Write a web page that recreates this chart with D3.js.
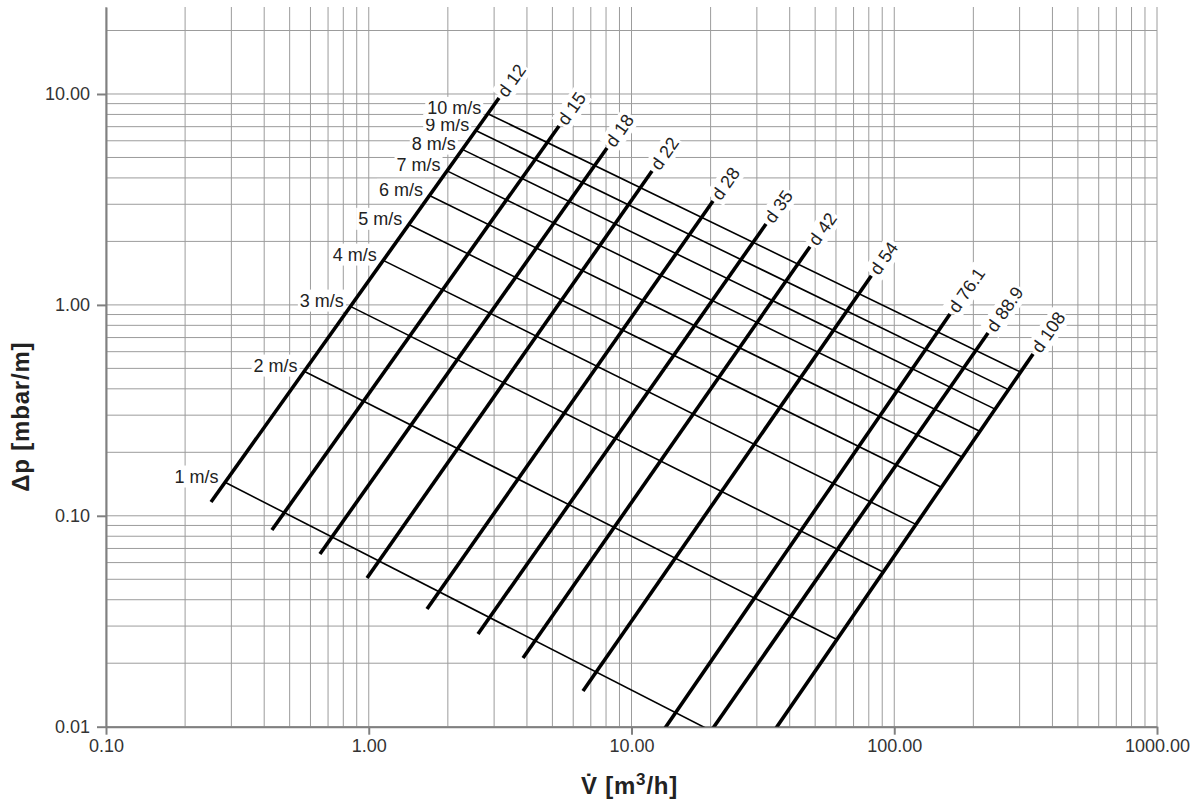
<!DOCTYPE html>
<html><head><meta charset="utf-8">
<script src="https://cdn.jsdelivr.net/npm/d3@7"></script>
<style>
html,body{margin:0;padding:0;background:#fff;}
svg{display:block;}
text{font-family:"Liberation Sans",Arial,Helvetica,sans-serif;}
</style></head><body>
<svg id="chart" width="1197" height="812"></svg>
<script>
// ---- data ----
const xTickValues = [0.1, 1, 10, 100, 1000];
const xTickLabels = ["0.10", "1.00", "10.00", "100.00", "1000.00"];
const yTickValues = [0.01, 0.1, 1, 10];
const yTickLabels = ["0.01", "0.10", "1.00", "10.00"];

// pipe diameter lines (thick): start / end points [m3/h, mbar/m]
const diameterLabels   = ["d 12", "d 15", "d 18", "d 22", "d 28", "d 35", "d 42", "d 54", "d 76.1", "d 88.9", "d 108"];
const diameterStartFlow = [0.251, 0.428, 0.652, 0.985, 1.666, 2.605, 3.865, 6.538, 11.06, 16.82, 29.28];
const diameterStartDp   = [0.1162, 0.0856, 0.0659, 0.0507, 0.03614, 0.02751, 0.02117, 0.01477, 0.00695, 0.00695, 0.00695];
const diameterEndFlow   = [3.131, 5.298, 8.069, 11.97, 20.43, 32.50, 47.78, 81.8, 163.0, 227.4, 337.5];
const diameterEndDp     = [9.574, 7.053, 5.546, 4.314, 3.109, 2.419, 1.888, 1.374, 0.9055, 0.7359, 0.5852];

// flow velocity lines (thin): from d 12 to d 108
const velocityLabels = ["1 m/s", "2 m/s", "3 m/s", "4 m/s", "5 m/s", "6 m/s", "7 m/s", "8 m/s", "9 m/s", "10 m/s"];
const velocityStartFlow = [0.285, 0.57, 0.855, 1.14, 1.425, 1.71, 1.995, 2.28, 2.565, 2.85];
const velocityStartDp   = [0.1438, 0.4828, 0.9815, 1.622, 2.397, 3.290, 4.309, 5.448, 6.690, 8.045];
const velocityEndFlow   = [30.1, 60.2, 90.3, 120.4, 150.5, 180.6, 210.7, 240.8, 270.9, 301];
const velocityEndDp     = [0.00739, 0.02597, 0.05426, 0.09133, 0.1370, 0.1905, 0.2524, 0.3213, 0.3976, 0.4817];

const xTitle = "V\u0307 [m";
const xTitleSup = "3";
const xTitleEnd = "/h]";
const yTitle = "\u0394p [mbar/m]";

// ---- chart ----
const plot = {left: 106, right: 1157, top: 7, bottom: 726.7};
const x = d3.scaleLog().domain([0.1, 1000]).range([plot.left, plot.right]);
const y = d3.scaleLog().domain([0.01, 25.85]).range([plot.bottom, plot.top]);

const svg = d3.select("#chart");
svg.append("defs").append("clipPath").attr("id", "clip")
  .append("rect")
  .attr("x", plot.left).attr("y", plot.top)
  .attr("width", plot.right - plot.left).attr("height", plot.bottom - plot.top);

// grid
const grid = svg.append("g").attr("class", "grid");
grid.selectAll("line.v").data(x.ticks()).join("line").attr("class", "v")
  .attr("x1", d => x(d)).attr("x2", d => x(d))
  .attr("y1", plot.top).attr("y2", plot.bottom)
  .attr("stroke", "#9c9c9c").attr("stroke-width", 1);
grid.selectAll("line.h").data(y.ticks()).join("line").attr("class", "h")
  .attr("x1", plot.left).attr("x2", plot.right)
  .attr("y1", d => y(d)).attr("y2", d => y(d))
  .attr("stroke", "#9c9c9c").attr("stroke-width", 1);

// axes
const xAxis = d3.axisBottom(x).tickValues(xTickValues)
  .tickFormat((d, i) => xTickLabels[i]).tickSize(8).tickSizeOuter(0).tickPadding(5);
const yAxis = d3.axisLeft(y).tickValues(yTickValues)
  .tickFormat((d, i) => yTickLabels[i]).tickSize(9).tickSizeOuter(0).tickPadding(7);

const gx = svg.append("g").attr("transform", `translate(0,${plot.bottom})`).call(xAxis);
const gy = svg.append("g").attr("transform", `translate(${plot.left},0)`).call(yAxis);
[gx, gy].forEach(g => {
  g.select(".domain").attr("stroke", "#808080").attr("stroke-width", 2);
  g.selectAll(".tick line").attr("stroke", "#808080").attr("stroke-width", 2);
  g.selectAll(".tick text").attr("fill", "#333").style("font-size", "18px")
    .style("font-family", "'Liberation Sans', Arial, sans-serif");
});

// labels with white background
const labelG = svg.append("g").attr("class", "labels");

function addBg(g, t) {
  const b = t.node().getBBox();
  g.insert("rect", "text")
    .attr("x", b.x - 2).attr("y", b.y - 1)
    .attr("width", b.width + 4).attr("height", b.height + 2)
    .attr("fill", "#fff");
}

diameterLabels.forEach((lab, i) => {
  const x1 = x(diameterStartFlow[i]), y1 = y(diameterStartDp[i]);
  const x2 = x(diameterEndFlow[i]), y2 = y(diameterEndDp[i]);
  const ang = Math.atan2(y2 - y1, x2 - x1) * 180 / Math.PI;
  const g = labelG.append("g").attr("transform", `translate(${x2},${y2}) rotate(${ang})`);
  const t = g.append("text").attr("x", 4).attr("dy", "0.36em")
    .attr("fill", "#222").style("font-size", "18px").text(lab);
  addBg(g, t);
});

velocityLabels.forEach((lab, i) => {
  const g = labelG.append("g");
  const t = g.append("text")
    .attr("x", x(velocityStartFlow[i]) - 7).attr("y", y(velocityStartDp[i]))
    .attr("text-anchor", "end").attr("fill", "#222").style("font-size", "18px").text(lab);
  addBg(g, t);
});

// lines
const lines = svg.append("g").attr("clip-path", "url(#clip)");
lines.selectAll("line.vel").data(velocityLabels).join("line").attr("class", "vel")
  .attr("x1", (d, i) => x(velocityStartFlow[i])).attr("y1", (d, i) => y(velocityStartDp[i]))
  .attr("x2", (d, i) => x(velocityEndFlow[i])).attr("y2", (d, i) => y(velocityEndDp[i]))
  .attr("stroke", "#000").attr("stroke-width", 1.6);
lines.selectAll("line.dia").data(diameterLabels).join("line").attr("class", "dia")
  .attr("x1", (d, i) => x(diameterStartFlow[i])).attr("y1", (d, i) => y(diameterStartDp[i]))
  .attr("x2", (d, i) => x(diameterEndFlow[i])).attr("y2", (d, i) => y(diameterEndDp[i]))
  .attr("stroke", "#000").attr("stroke-width", 3.6);

// titles
const xt = svg.append("text")
  .attr("x", 629.5).attr("y", 794).attr("text-anchor", "middle")
  .attr("fill", "#222").style("font-size", "24px").style("font-weight", "bold")
  .style("letter-spacing", "0.8px");
xt.append("tspan").text(xTitle);
xt.append("tspan").attr("dy", -9).style("font-size", "17px").text(xTitleSup);
xt.append("tspan").attr("dy", 9).text(xTitleEnd);

svg.append("text")
  .attr("transform", "translate(29,416.7) rotate(-90)")
  .attr("text-anchor", "middle").attr("fill", "#222")
  .style("font-size", "24px").style("font-weight", "bold").style("letter-spacing", "0.8px")
  .text(yTitle);
</script>
</body></html>
